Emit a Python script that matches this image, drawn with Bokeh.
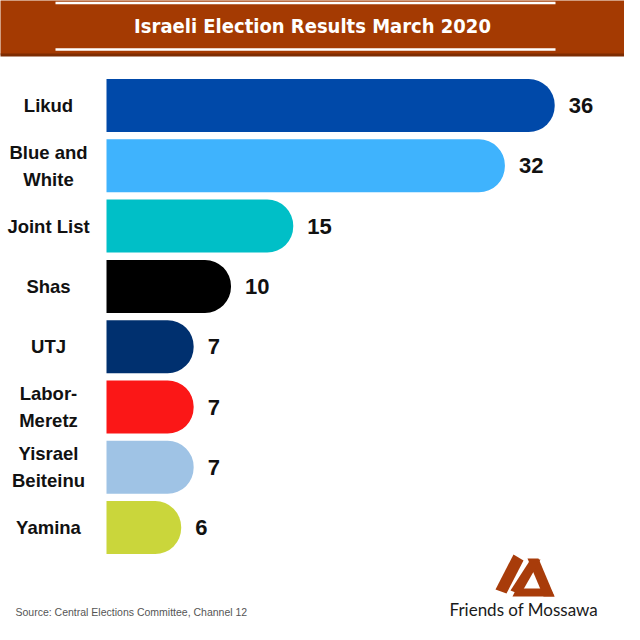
from bokeh.plotting import figure
from bokeh.models import Range1d
from bokeh.core.properties import value
from bokeh.embed import file_html
from bokeh.resources import INLINE

# ---- data ----
parties = ["Likud", "Blue and\nWhite", "Joint List", "Shas", "UTJ", "Labor-\nMeretz", "Yisrael\nBeiteinu", "Yamina"]
seats = [36, 32, 15, 10, 7, 7, 7, 6]
colors = ["#0049a9", "#3fb3fd", "#00bfc7", "#000000", "#00306f", "#fb1717", "#9fc3e5", "#cad63b"]
title = "Israeli Election Results March 2020"
source = "Source: Central Elections Committee, Channel 12"
brand = "Friends of Mossawa"

rows = list(range(len(parties)))

# ---- pixel helpers (reference-page pixels -> data) ----
SX, X0 = 12.45, 114.0
RS, Y0 = 60.3, 113.0
def X(px):
    return (px - X0) / SX
def Y(py):
    return (py - Y0) / RS

p = figure(width=624, height=624, output_backend="svg", toolbar_location=None,
           x_range=Range1d(X(8), X(632)), y_range=Range1d(Y(632), Y(8)),
           x_axis_location=None, y_axis_location=None, min_border=0)
p.grid.visible = False
p.outline_line_color = None
p.background_fill_color = "white"
p.border_fill_color = "white"

# header band
p.quad(left=X(0), right=X(640), top=Y(0), bottom=Y(62), fill_color="#a43a02", line_color=None)
p.quad(left=X(0), right=X(640), top=Y(61), bottom=Y(64), fill_color="#7d2c02", line_color=None)
for yy in (10.5, 57):
    p.segment(x0=X(63), x1=X(563), y0=Y(yy), y1=Y(yy), line_color="white", line_width=2.5)
p.text(x=[X(320)], y=[Y(33)], text=[title], text_align="center", text_baseline="middle",
       text_color="white",
       text_font=value("'Liberation Sans Narrow', 'DejaVu Sans Condensed', 'Roboto Condensed', 'Open Sans', sans-serif"),
       text_font_style="bold", text_font_size="20px")

# bars
p.hbar(y=rows, left=0, right=seats, height=53 / RS, fill_color=colors, line_color=None,
       border_radius=(0, 26, 26, 0))

# category labels
p.text(x=[X(56)] * len(parties), y=rows, text=parties, text_align="center", text_baseline="middle",
       text_font=value("Liberation Sans"), text_font_style="bold", text_font_size="18.5px",
       text_color="#111111", text_line_height=1.3)

# value labels
p.text(x=seats, y=rows, text=[str(s) for s in seats], x_offset=14, text_align="left",
       text_baseline="middle", text_font=value("Liberation Sans"), text_font_style="bold",
       text_font_size="22px", text_color="#111111")

# source
p.text(x=[X(23)], y=[Y(619)], text=[source], text_align="left", text_baseline="middle",
       text_font=value("Liberation Sans"), text_font_size="10.5px", text_color="#555555")

# logo (approximate)
logo = "#a83c0a"
polys = [
    [(503, 597), (521, 562), (531, 568), (514, 601)],
    [(535, 566), (546, 566), (562, 604), (551, 604)],
    [(524, 596), (558, 596), (562, 604), (520, 604)],
    [(538, 567), (548, 567), (528, 602), (518, 598)],
]
p.patches(xs=[[X(a) for a, b in pl] for pl in polys], ys=[[Y(b) for a, b in pl] for pl in polys],
          fill_color=logo, line_color=None)
p.text(x=[X(457)], y=[Y(617)], text=[brand], text_align="left", text_baseline="middle",
       text_font=value("Lato"), text_font_size="17px", text_color="#1a1a1a")

open("out.html", "w").write(file_html(p, INLINE))
